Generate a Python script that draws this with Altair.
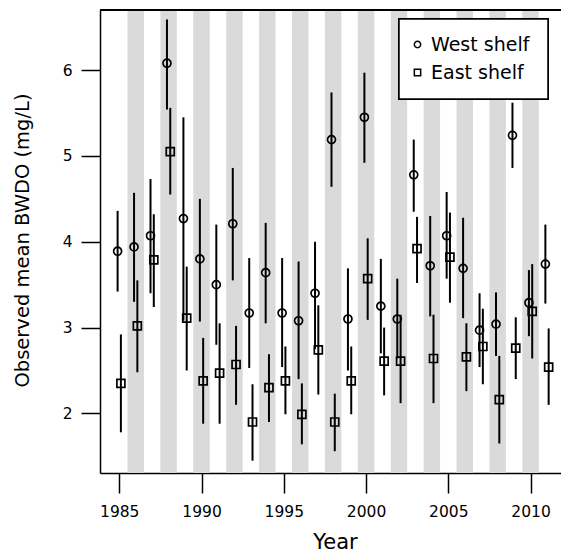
import altair as alt
import pandas as pd

years = list(range(1985, 2012))
west_mean = [3.89, 3.94, 4.07, 6.08, 4.27, 3.80, 3.50, 4.21, 3.17, 3.64, 3.17, 3.08, 3.40, 5.19,
             3.10, 5.45, 3.25, 3.10, 4.78, 3.72, 4.07, 3.69, 2.97, 3.04, 5.24, 3.29, 3.74]
west_lo = [3.42, 3.30, 3.40, 5.54, 3.08, 3.07, 2.80, 3.55, 2.53, 3.05, 2.54, 2.40, 2.75, 4.64,
           2.50, 4.92, 2.70, 2.64, 4.35, 3.13, 3.57, 3.11, 2.54, 2.67, 4.86, 2.90, 3.28]
west_hi = [4.36, 4.57, 4.73, 6.59, 5.45, 4.50, 4.20, 4.86, 3.81, 4.22, 3.81, 3.77, 4.00, 5.74,
           3.69, 5.97, 3.80, 3.57, 5.19, 4.30, 4.58, 4.28, 3.40, 3.41, 5.62, 3.67, 4.20]
east_mean = [2.35, 3.02, 3.79, 5.05, 3.11, 2.38, 2.47, 2.57, 1.90, 2.30, 2.38, 1.99, 2.74, 1.90,
             2.38, 3.57, 2.61, 2.61, 3.92, 2.64, 3.82, 2.66, 2.78, 2.16, 2.76, 3.19, 2.54]
east_lo = [1.78, 2.48, 3.24, 4.55, 2.50, 1.88, 1.88, 2.10, 1.45, 1.90, 1.99, 1.64, 2.22, 1.56,
           1.99, 3.09, 2.21, 2.12, 3.52, 2.12, 3.29, 2.26, 2.34, 1.65, 2.40, 2.64, 2.10]
east_hi = [2.92, 3.55, 4.32, 5.56, 3.71, 2.88, 3.05, 3.02, 2.34, 2.69, 2.78, 2.35, 3.26, 2.23,
           2.78, 4.04, 3.00, 3.15, 4.29, 3.15, 4.34, 3.05, 3.22, 2.67, 3.12, 3.74, 2.99]
band_years = list(range(1986, 2011, 2))
series = ["West shelf", "East shelf"]
x_ticks = [1985, 1990, 1995, 2000, 2005, 2010]
y_ticks = [2, 3, 4, 5, 6]

OFFSET = {"West shelf": -0.1, "East shelf": 0.1}

rows = []
for i, yr in enumerate(years):
    rows.append({"series": "West shelf", "year": yr + OFFSET["West shelf"],
                 "mean": west_mean[i], "lo": west_lo[i], "hi": west_hi[i]})
    rows.append({"series": "East shelf", "year": yr + OFFSET["East shelf"],
                 "mean": east_mean[i], "lo": east_lo[i], "hi": east_hi[i]})
df = pd.DataFrame(rows)
bands = pd.DataFrame({"year": band_years})

W, H = 461, 463
FONT = "DejaVu Sans"
xscale = alt.Scale(domain=[1983.83, 2011.85], nice=False, zero=False)
yscale = alt.Scale(domain=[1.306, 6.70], nice=False, zero=False)

x_axis = alt.Axis(values=x_ticks, format="d", grid=False, tickSize=20, tickWidth=1.5,
                  domainWidth=1.5, domainColor="black", tickColor="black",
                  labelFontSize=15.5, labelPadding=11, labelColor="black", labelFont=FONT,
                  title="Year", titleFontSize=21, titleFont=FONT, titleFontWeight="normal",
                  titleColor="black", titleX=235, titleY=75, titleBaseline="alphabetic")
y_axis = alt.Axis(values=y_ticks, format="d", grid=False, tickSize=19, tickWidth=1.5,
                  domainWidth=1.5, domainColor="black", tickColor="black",
                  labelFontSize=15.5, labelPadding=9, labelColor="black", labelFont=FONT,
                  title="Observed mean BWDO (mg/L)", titleFontSize=19.5, titleFont=FONT,
                  titleFontWeight="normal", titleColor="black", titleAngle=270,
                  titleX=-72, titleY=230, titleBaseline="alphabetic", titleAlign="center")

legend = alt.Legend(
    title=None, orient="none", legendX=308, legendY=25, padding=0,
    labelFontSize=19, labelFont=FONT, labelColor="black",
    labelOffset=4, rowPadding=8, symbolSize=40, symbolStrokeColor="black",
    symbolStrokeWidth=1.5, symbolFillColor="transparent", direction="vertical",
)

band_layer = alt.Chart(bands).mark_rect(color="#dadada").transform_calculate(
    x0="datum.year - 0.5", x1="datum.year + 0.5"
).encode(
    x=alt.X("x0:Q", scale=xscale, axis=x_axis),
    x2="x1:Q",
)

legend_box = alt.Chart(bands).mark_rect(fill="white", stroke="black", strokeWidth=1.5).encode(
    x=alt.value(299), x2=alt.value(448), y=alt.value(9), y2=alt.value(89)
)

err_layer = alt.Chart(df).mark_rule(color="black", strokeWidth=2).encode(
    x=alt.X("year:Q", scale=xscale, axis=x_axis),
    y=alt.Y("lo:Q", scale=yscale, axis=y_axis),
    y2="hi:Q",
)

pt_layer = alt.Chart(df).mark_point(filled=False, color="black", strokeWidth=1.7, size=64,
                                    opacity=1).encode(
    x=alt.X("year:Q", scale=xscale, axis=x_axis),
    y=alt.Y("mean:Q", scale=yscale, axis=y_axis),
    shape=alt.Shape("series:N", scale=alt.Scale(domain=series, range=["circle", "square"]),
                    legend=legend),
)

top_line = alt.Chart(bands).mark_rule(color="black", strokeWidth=1.5).encode(
    y=alt.value(0), x=alt.value(0), x2=alt.value(W)
)

chart = alt.layer(band_layer, legend_box, err_layer, pt_layer, top_line).properties(
    width=W, height=H,
    autosize=alt.AutoSizeParams(type="none"),
    padding={"left": 100, "top": 10, "right": 0, "bottom": 83},
).configure_view(stroke=None).configure(background="white")

chart.save("out.html", embed_options={"renderer": "svg", "actions": False})
